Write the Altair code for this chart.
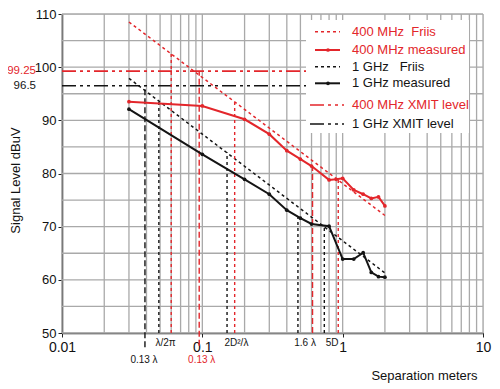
import altair as alt
import pandas as pd

RED = "#e3262b"
BLK = "#141414"
GRID = "#a9a9a9"
FONT = "Liberation Sans"

# ---------------- data ----------------
x_400 = [0.03, 0.1, 0.2, 0.3, 0.4, 0.5, 0.6, 0.8, 0.9, 1.0, 1.2, 1.4, 1.6, 1.8, 2.0]
y_400 = [93.5, 92.7, 90.2, 87.4, 84.3, 82.7, 81.4, 78.8, 78.9, 79.1, 76.9, 76.1, 75.3, 75.6, 73.9]

x_1g = [0.03, 0.1, 0.2, 0.3, 0.4, 0.5, 0.6, 0.8, 1.0, 1.2, 1.4, 1.6, 1.8, 2.0]
y_1g = [92.1, 83.6, 78.9, 76.1, 73.1, 71.6, 70.5, 70.1, 63.9, 63.9, 65.1, 61.4, 60.6, 60.5]

friis_x = [0.03, 2.0]
friis_400 = [108.5, 72.1]
friis_1g = [97.9, 61.3]

xmit_x = [0.01, 2.0]
xmit_400 = 99.25
xmit_1g = 96.5
xmit_labels = ["99.25", "96.5"]

vline_x = [0.039, 0.049, 0.060, 0.095, 0.150, 0.170, 0.48, 0.61, 0.74, 0.93]
vline_top = [96.5, 93.6, 102.5, 99.25, 84.0, 93.4, 71.9, 81.4, 70.1, 78.8]
vline_bottom = [47.3, 50, 50, 47.6, 50, 50, 50, 50, 50, 50]
vline_band = ["1 GHz", "1 GHz", "400 MHz", "400 MHz", "1 GHz", "400 MHz", "1 GHz", "400 MHz", "1 GHz", "400 MHz"]
vline_kind = ["dashed", "dotted", "dotted", "dashed", "dotted", "dotted", "dotted", "dashed", "dotted", "dotted"]

mark_labels = ["0.13 λ", "λ/2π", "0.13 λ", "2D²/λ", "1.6 λ", "5D"]
mark_label_x = [0.0384, 0.0547, 0.099, 0.175, 0.54, 0.842]
mark_label_row = ["low", "high", "low", "high", "high", "high"]
mark_label_band = ["1 GHz", "1 GHz", "400 MHz", "1 GHz", "1 GHz", "1 GHz"]

x_ticks = [0.01, 0.1, 1, 10]
y_ticks = [50, 60, 70, 80, 90, 100, 110]
grid_x = [m * d for d in [0.01, 0.1, 1] for m in range(1, 10)] + [10]
grid_y = list(range(50, 111, 5))

legend_labels = ["400 MHz\u00a0 Friis", "400 MHz measured", "1 GHz\u00a0\u00a0 Friis",
                 "1 GHz measured", "400 MHz XMIT level", "1 GHz XMIT level"]

# ---------------- scales ----------------
xs = alt.Scale(type="log", domain=[0.01, 10], nice=False)
ys = alt.Scale(domain=[50, 110], nice=False, zero=False)

X_AXIS = alt.Axis(values=x_ticks, format="~g", grid=False, labelFontSize=14, labelFont=FONT,
                  labelColor="#111", tickSize=4, tickColor="#222", domainColor="#222", domainWidth=1.5,
                  labelPadding=3, title="Separation meters", titleFont=FONT, titleFontSize=13,
                  titleFontWeight="normal", titleColor="#111", titleX=362, titleY=42,
                  titleAlign="center", titleBaseline="middle", labelFlush=False)
Y_AXIS = alt.Axis(values=y_ticks, grid=False, labelFontSize=13, labelFont=FONT, labelColor="#111",
                  tickSize=4, tickColor="#222", domainColor="#222", domainWidth=1.5, labelPadding=2,
                  title="Signal Level dBuV", titleFont=FONT, titleFontSize=13, titleFontWeight="normal",
                  titleColor="#111", titleX=-47, titleY=166, titleAlign="center", titleBaseline="middle")

# ---------------- grid ----------------
gx = alt.Chart(pd.DataFrame({"x": grid_x})).mark_rule(color=GRID, strokeWidth=1.3).encode(
    x=alt.X("x:Q", scale=xs, axis=X_AXIS))
gy = alt.Chart(pd.DataFrame({"y": grid_y})).mark_rule(color=GRID, strokeWidth=1.3).encode(
    y=alt.Y("y:Q", scale=ys, axis=Y_AXIS))

# ---------------- transmit levels ----------------
xmit_df = pd.DataFrame({
    "x": xmit_x * 2,
    "y": [xmit_400] * 2 + [xmit_1g] * 2,
    "s": ["400"] * 2 + ["1g"] * 2,
})
XMIT_DASH = [14, 4, 3, 4, 3, 4]
xmit_red = alt.Chart(xmit_df[xmit_df.s == "400"]).mark_line(
    color=RED, strokeWidth=1.6, strokeDash=XMIT_DASH).encode(
    x=alt.X("x:Q", scale=xs), y=alt.Y("y:Q", scale=ys))
xmit_blk = alt.Chart(xmit_df[xmit_df.s == "1g"]).mark_line(
    color=BLK, strokeWidth=1.6, strokeDash=XMIT_DASH).encode(
    x=alt.X("x:Q", scale=xs), y=alt.Y("y:Q", scale=ys))

xmit_text = alt.Chart(pd.DataFrame({"y": [xmit_400, xmit_1g], "t": xmit_labels,
                                    "c": [RED, BLK]})).mark_text(
    align="right", baseline="middle", font=FONT, fontSize=11.5).encode(
    x=alt.value(-26), y=alt.Y("y:Q", scale=ys), text="t:N", color=alt.Color("c:N", scale=None))

# ---------------- Friis ----------------
friis_red = alt.Chart(pd.DataFrame({"x": friis_x, "y": friis_400})).mark_line(
    color=RED, strokeWidth=1.5, strokeDash=[3, 3]).encode(
    x=alt.X("x:Q", scale=xs), y=alt.Y("y:Q", scale=ys))
friis_blk = alt.Chart(pd.DataFrame({"x": friis_x, "y": friis_1g})).mark_line(
    color=BLK, strokeWidth=1.5, strokeDash=[3, 3]).encode(
    x=alt.X("x:Q", scale=xs), y=alt.Y("y:Q", scale=ys))

# ---------------- vertical markers ----------------
vdf = pd.DataFrame({"x": vline_x, "top": vline_top, "bot": vline_bottom,
                    "band": vline_band, "kind": vline_kind})
vlines = alt.Chart(vdf).mark_rule(strokeWidth=1.4).encode(
    x=alt.X("x:Q", scale=xs),
    y=alt.Y("bot:Q", scale=ys),
    y2="top:Q",
    color=alt.Color("band:N", scale=alt.Scale(domain=["400 MHz", "1 GHz"], range=[RED, BLK]), legend=None),
    strokeDash=alt.StrokeDash("kind:N", scale=alt.Scale(domain=["dashed", "dotted"],
                                                        range=[[6, 3], [3, 3]]), legend=None),
)

ldf = pd.DataFrame({"x": mark_label_x, "t": mark_labels, "row": mark_label_row, "band": mark_label_band})
mlabels_high = alt.Chart(ldf[ldf.row == "high"]).mark_text(
    font=FONT, fontSize=10, baseline="middle", align="center").encode(
    x=alt.X("x:Q", scale=xs), y=alt.value(329), text="t:N",
    color=alt.Color("band:N", scale=alt.Scale(domain=["400 MHz", "1 GHz"], range=[RED, "#444444"]), legend=None))
mlabels_low = alt.Chart(ldf[ldf.row == "low"]).mark_text(
    font=FONT, fontSize=10, baseline="middle", align="center").encode(
    x=alt.X("x:Q", scale=xs), y=alt.value(346), text="t:N",
    color=alt.Color("band:N", scale=alt.Scale(domain=["400 MHz", "1 GHz"], range=[RED, "#444444"]), legend=None))

# ---------------- measured ----------------
meas_red = alt.Chart(pd.DataFrame({"x": x_400, "y": y_400})).mark_line(
    color=RED, strokeWidth=2, point=alt.OverlayMarkDef(color=RED, size=14, filled=True)).encode(
    x=alt.X("x:Q", scale=xs), y=alt.Y("y:Q", scale=ys))
meas_blk = alt.Chart(pd.DataFrame({"x": x_1g, "y": y_1g})).mark_line(
    color=BLK, strokeWidth=2, point=alt.OverlayMarkDef(color=BLK, size=14, filled=True)).encode(
    x=alt.X("x:Q", scale=xs), y=alt.Y("y:Q", scale=ys))

# ---------------- legend (drawn by hand) ----------------
box = alt.Chart(pd.DataFrame({"a": [0]})).mark_rect(color="white").encode(
    x=alt.value(244), x2=alt.value(407), y=alt.value(6), y2=alt.value(119))

leg_y = [17.7, 36, 52.7, 69.3, 91, 110]
leg_col = [RED, RED, BLK, BLK, RED, BLK]
leg_dash = [[3, 3], None, [3, 3], None, XMIT_DASH, XMIT_DASH]
leg_layers = [box]
for i, lab in enumerate(legend_labels):
    x0, x1 = (253, 278) if i < 4 else (248, 282)
    kw = dict(color=leg_col[i], strokeWidth=2 if leg_dash[i] is None else 1.6)
    if leg_dash[i] is not None:
        kw["strokeDash"] = leg_dash[i]
    leg_layers.append(alt.Chart(pd.DataFrame({"a": [0]})).mark_rule(**kw).encode(
        x=alt.value(x0), x2=alt.value(x1), y=alt.value(leg_y[i])))
    if leg_dash[i] is None:
        leg_layers.append(alt.Chart(pd.DataFrame({"a": [0]})).mark_point(
            filled=True, size=14, color=leg_col[i], opacity=1).encode(
            x=alt.value(266), y=alt.value(leg_y[i])))
    leg_layers.append(alt.Chart(pd.DataFrame({"a": [0]})).mark_text(
        text=lab, align="left", baseline="middle", font=FONT, fontSize=13, color=leg_col[i]).encode(
        x=alt.value(290), y=alt.value(leg_y[i])))

chart = alt.layer(
    gx, gy, xmit_red, xmit_blk, friis_red, friis_blk, vlines, meas_red, meas_blk,
    *leg_layers, xmit_text, mlabels_high, mlabels_low,
).properties(
    width=421, height=319,
    autosize=alt.AutoSizeParams(type="none"),
    padding={"left": 54, "top": 6, "right": 9, "bottom": 50},
).configure_view(stroke=None).configure(background="white")

chart.save("out.html", embed_options={"renderer": "svg", "actions": False})
